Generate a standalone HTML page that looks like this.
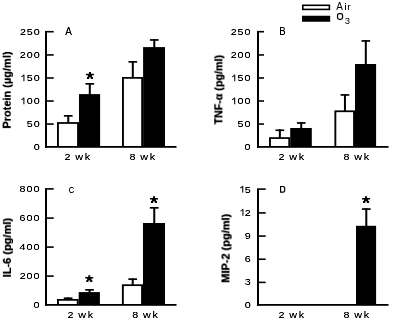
<!DOCTYPE html><html><head><meta charset="utf-8"><style>html,body{margin:0;padding:0;background:#fff;width:400px;height:321px;overflow:hidden}svg{position:absolute;left:0;top:0;will-change:transform;font-family:"Liberation Sans",sans-serif}</style></head><body>
<svg width="400" height="321" viewBox="0 0 400 321">
<defs><filter id="dk" x="-20%" y="-20%" width="140%" height="140%"><feComponentTransfer><feFuncA type="linear" slope="1.25"/></feComponentTransfer></filter><filter id="dk2" x="-30%" y="-30%" width="160%" height="160%"><feComponentTransfer><feFuncA type="linear" slope="1.3"/></feComponentTransfer></filter></defs>
<rect width="400" height="321" fill="#fff"/>
<rect x="45.00" y="30.90" width="2.00" height="116.90" fill="#000"/>
<rect x="45.00" y="146.00" width="131.50" height="1.80" fill="#000"/>
<text transform="translate(33.73,150.35) scale(1.11,1)" font-size="9.7" filter="url(#dk2)">0</text>
<rect x="47.00" y="123.26" width="6.70" height="1.60" fill="#000"/>
<text transform="translate(33.73,127.31) scale(1.11,1)" font-size="9.7" filter="url(#dk2)">0</text>
<text transform="translate(26.77,127.31) scale(1.11,1)" font-size="9.7" filter="url(#dk2)">5</text>
<rect x="47.00" y="100.22" width="6.70" height="1.60" fill="#000"/>
<text transform="translate(33.73,104.27) scale(1.11,1)" font-size="9.7" filter="url(#dk2)">0</text>
<text transform="translate(26.74,104.27) scale(1.11,1)" font-size="9.7" filter="url(#dk2)">0</text>
<rect x="23.36" y="97.67" width="1.05" height="6.60" fill="#000"/>
<path d="M23.81,97.57 L21.11,99.57 L21.61,100.17 L23.91,98.67Z" fill="#000"/>
<rect x="47.00" y="77.18" width="6.70" height="1.60" fill="#000"/>
<text transform="translate(33.73,81.23) scale(1.11,1)" font-size="9.7" filter="url(#dk2)">0</text>
<text transform="translate(26.77,81.23) scale(1.11,1)" font-size="9.7" filter="url(#dk2)">5</text>
<rect x="23.40" y="74.63" width="1.05" height="6.60" fill="#000"/>
<path d="M23.85,74.53 L21.15,76.53 L21.65,77.13 L23.95,75.63Z" fill="#000"/>
<rect x="47.00" y="54.14" width="6.70" height="1.60" fill="#000"/>
<text transform="translate(33.73,58.19) scale(1.11,1)" font-size="9.7" filter="url(#dk2)">0</text>
<text transform="translate(26.74,58.19) scale(1.11,1)" font-size="9.7" filter="url(#dk2)">0</text>
<text transform="translate(19.86,58.19) scale(1.11,1)" font-size="9.7" filter="url(#dk2)">2</text>
<rect x="47.00" y="30.90" width="6.70" height="1.60" fill="#000"/>
<text transform="translate(33.73,35.15) scale(1.11,1)" font-size="9.7" filter="url(#dk2)">0</text>
<text transform="translate(26.77,35.15) scale(1.11,1)" font-size="9.7" filter="url(#dk2)">5</text>
<text transform="translate(19.90,35.15) scale(1.11,1)" font-size="9.7" filter="url(#dk2)">2</text>
<rect x="57.00" y="122.10" width="22.00" height="23.90" fill="#000"/>
<rect x="58.90" y="123.85" width="18.20" height="22.15" fill="#fff"/>
<rect x="67.25" y="115.00" width="2.00" height="8.10" fill="#000"/>
<rect x="63.90" y="115.00" width="8.70" height="1.70" fill="#000"/>
<rect x="79.00" y="94.10" width="21.10" height="51.90" fill="#000"/>
<rect x="88.80" y="83.00" width="2.00" height="12.10" fill="#000"/>
<rect x="85.45" y="83.00" width="8.70" height="1.70" fill="#000"/>
<path d="M88.95,72.10 L90.95,72.10 L90.95,73.85 L93.95,73.85 L93.95,75.35 L92.05,75.35 L92.05,77.00 L92.95,77.00 L92.95,78.90 L90.80,78.90 L90.80,77.40 L89.10,77.40 L89.10,78.90 L86.95,78.90 L86.95,77.00 L87.85,77.00 L87.85,75.35 L85.95,75.35 L85.95,73.85 L88.95,73.85Z" fill="#000"/>
<rect x="122.00" y="77.00" width="21.10" height="69.00" fill="#000"/>
<rect x="123.90" y="78.75" width="17.30" height="67.25" fill="#fff"/>
<rect x="131.80" y="61.00" width="2.00" height="17.00" fill="#000"/>
<rect x="128.45" y="61.00" width="8.70" height="1.70" fill="#000"/>
<rect x="143.10" y="47.10" width="21.90" height="98.90" fill="#000"/>
<rect x="153.30" y="39.10" width="2.00" height="9.00" fill="#000"/>
<rect x="149.95" y="39.10" width="8.70" height="1.70" fill="#000"/>
<text transform="translate(65.18,34.75) scale(0.907,1)" font-size="10.97" filter="url(#dk2)">A</text>
<text transform="translate(64.46,159.80) scale(1.11,1)" font-size="9.7" filter="url(#dk2)">2</text>
<text transform="translate(75.21,159.80) scale(1.11,1)" font-size="9.7" filter="url(#dk2)">w</text>
<text transform="translate(84.68,159.80) scale(1.11,1)" font-size="9.7" filter="url(#dk2)">k</text>
<text transform="translate(129.54,159.80) scale(1.11,1)" font-size="9.7" filter="url(#dk2)">8</text>
<text transform="translate(140.21,159.80) scale(1.11,1)" font-size="9.7" filter="url(#dk2)">w</text>
<text transform="translate(149.68,159.80) scale(1.11,1)" font-size="9.7" filter="url(#dk2)">k</text>
<text transform="translate(10.70,90.10) rotate(-90)" font-size="11" font-weight="bold" text-anchor="middle" filter="url(#dk)">Protein (µg/ml)</text>
<rect x="257.00" y="30.90" width="2.00" height="116.90" fill="#000"/>
<rect x="257.00" y="146.00" width="131.50" height="1.80" fill="#000"/>
<text transform="translate(244.53,150.35) scale(1.11,1)" font-size="9.7" filter="url(#dk2)">0</text>
<rect x="259.00" y="123.26" width="5.00" height="1.60" fill="#000"/>
<text transform="translate(244.53,127.31) scale(1.11,1)" font-size="9.7" filter="url(#dk2)">0</text>
<text transform="translate(237.57,127.31) scale(1.11,1)" font-size="9.7" filter="url(#dk2)">5</text>
<rect x="259.00" y="100.22" width="5.00" height="1.60" fill="#000"/>
<text transform="translate(244.53,104.27) scale(1.11,1)" font-size="9.7" filter="url(#dk2)">0</text>
<text transform="translate(237.54,104.27) scale(1.11,1)" font-size="9.7" filter="url(#dk2)">0</text>
<rect x="234.16" y="97.67" width="1.05" height="6.60" fill="#000"/>
<path d="M234.61,97.57 L231.91,99.57 L232.41,100.17 L234.71,98.67Z" fill="#000"/>
<rect x="259.00" y="77.18" width="5.00" height="1.60" fill="#000"/>
<text transform="translate(244.53,81.23) scale(1.11,1)" font-size="9.7" filter="url(#dk2)">0</text>
<text transform="translate(237.57,81.23) scale(1.11,1)" font-size="9.7" filter="url(#dk2)">5</text>
<rect x="234.20" y="74.63" width="1.05" height="6.60" fill="#000"/>
<path d="M234.65,74.53 L231.95,76.53 L232.45,77.13 L234.75,75.63Z" fill="#000"/>
<rect x="259.00" y="54.14" width="5.00" height="1.60" fill="#000"/>
<text transform="translate(244.53,58.19) scale(1.11,1)" font-size="9.7" filter="url(#dk2)">0</text>
<text transform="translate(237.54,58.19) scale(1.11,1)" font-size="9.7" filter="url(#dk2)">0</text>
<text transform="translate(230.66,58.19) scale(1.11,1)" font-size="9.7" filter="url(#dk2)">2</text>
<rect x="259.00" y="30.90" width="5.00" height="1.60" fill="#000"/>
<text transform="translate(244.53,35.15) scale(1.11,1)" font-size="9.7" filter="url(#dk2)">0</text>
<text transform="translate(237.57,35.15) scale(1.11,1)" font-size="9.7" filter="url(#dk2)">5</text>
<text transform="translate(230.70,35.15) scale(1.11,1)" font-size="9.7" filter="url(#dk2)">2</text>
<rect x="269.00" y="137.20" width="21.20" height="8.80" fill="#000"/>
<rect x="270.90" y="138.95" width="17.40" height="7.05" fill="#fff"/>
<rect x="278.85" y="129.40" width="2.00" height="8.80" fill="#000"/>
<rect x="275.50" y="129.40" width="8.70" height="1.70" fill="#000"/>
<rect x="290.20" y="128.00" width="21.60" height="18.00" fill="#000"/>
<rect x="300.25" y="122.10" width="2.00" height="6.90" fill="#000"/>
<rect x="296.90" y="122.10" width="8.70" height="1.70" fill="#000"/>
<rect x="334.40" y="110.40" width="20.60" height="35.60" fill="#000"/>
<rect x="336.30" y="112.15" width="16.80" height="33.85" fill="#fff"/>
<rect x="343.95" y="94.10" width="2.00" height="17.30" fill="#000"/>
<rect x="340.60" y="94.10" width="8.70" height="1.70" fill="#000"/>
<rect x="355.00" y="64.00" width="21.10" height="82.00" fill="#000"/>
<rect x="364.80" y="40.10" width="2.00" height="24.90" fill="#000"/>
<rect x="361.45" y="40.10" width="8.70" height="1.70" fill="#000"/>
<text transform="translate(279.16,35.10) scale(0.942,1)" font-size="10.17" filter="url(#dk2)">B</text>
<text transform="translate(278.46,159.80) scale(1.11,1)" font-size="9.7" filter="url(#dk2)">2</text>
<text transform="translate(289.21,159.80) scale(1.11,1)" font-size="9.7" filter="url(#dk2)">w</text>
<text transform="translate(298.68,159.80) scale(1.11,1)" font-size="9.7" filter="url(#dk2)">k</text>
<text transform="translate(343.54,159.80) scale(1.11,1)" font-size="9.7" filter="url(#dk2)">8</text>
<text transform="translate(354.21,159.80) scale(1.11,1)" font-size="9.7" filter="url(#dk2)">w</text>
<text transform="translate(363.68,159.80) scale(1.11,1)" font-size="9.7" filter="url(#dk2)">k</text>
<text transform="translate(222.40,89.70) rotate(-90)" font-size="11" font-weight="bold" text-anchor="middle" filter="url(#dk)" textLength="69.5" lengthAdjust="spacingAndGlyphs">TNF-α (pg/ml)</text>
<rect x="45.00" y="188.10" width="2.00" height="117.70" fill="#000"/>
<rect x="45.00" y="304.00" width="131.50" height="1.80" fill="#000"/>
<text transform="translate(33.53,308.35) scale(1.11,1)" font-size="9.7" filter="url(#dk2)">0</text>
<rect x="47.00" y="275.30" width="6.70" height="1.60" fill="#000"/>
<text transform="translate(33.53,279.35) scale(1.11,1)" font-size="9.7" filter="url(#dk2)">0</text>
<text transform="translate(26.54,279.35) scale(1.11,1)" font-size="9.7" filter="url(#dk2)">0</text>
<text transform="translate(19.66,279.35) scale(1.11,1)" font-size="9.7" filter="url(#dk2)">2</text>
<rect x="47.00" y="246.30" width="6.70" height="1.60" fill="#000"/>
<text transform="translate(33.53,250.35) scale(1.11,1)" font-size="9.7" filter="url(#dk2)">0</text>
<text transform="translate(26.54,250.35) scale(1.11,1)" font-size="9.7" filter="url(#dk2)">0</text>
<text transform="translate(19.43,250.35) scale(1.11,1)" font-size="9.7" filter="url(#dk2)">4</text>
<rect x="47.00" y="217.30" width="6.70" height="1.60" fill="#000"/>
<text transform="translate(33.53,221.35) scale(1.11,1)" font-size="9.7" filter="url(#dk2)">0</text>
<text transform="translate(26.54,221.35) scale(1.11,1)" font-size="9.7" filter="url(#dk2)">0</text>
<text transform="translate(19.59,221.35) scale(1.11,1)" font-size="9.7" filter="url(#dk2)">6</text>
<rect x="47.00" y="188.10" width="6.70" height="1.60" fill="#000"/>
<text transform="translate(33.53,192.35) scale(1.11,1)" font-size="9.7" filter="url(#dk2)">0</text>
<text transform="translate(26.54,192.35) scale(1.11,1)" font-size="9.7" filter="url(#dk2)">0</text>
<text transform="translate(19.58,192.35) scale(1.11,1)" font-size="9.7" filter="url(#dk2)">8</text>
<rect x="57.00" y="299.00" width="21.70" height="5.00" fill="#000"/>
<rect x="58.90" y="300.75" width="17.90" height="3.25" fill="#fff"/>
<rect x="67.10" y="297.40" width="2.00" height="2.60" fill="#000"/>
<rect x="63.75" y="297.40" width="8.70" height="1.70" fill="#000"/>
<rect x="78.70" y="292.10" width="21.20" height="11.90" fill="#000"/>
<rect x="88.55" y="289.00" width="2.00" height="4.10" fill="#000"/>
<rect x="85.20" y="289.00" width="8.70" height="1.70" fill="#000"/>
<path d="M88.30,275.20 L90.30,275.20 L90.30,276.95 L93.30,276.95 L93.30,278.45 L91.40,278.45 L91.40,280.10 L92.30,280.10 L92.30,282.00 L90.15,282.00 L90.15,280.50 L88.45,280.50 L88.45,282.00 L86.30,282.00 L86.30,280.10 L87.20,280.10 L87.20,278.45 L85.30,278.45 L85.30,276.95 L88.30,276.95Z" fill="#000"/>
<rect x="121.90" y="284.30" width="21.10" height="19.70" fill="#000"/>
<rect x="123.80" y="286.05" width="17.30" height="17.95" fill="#fff"/>
<rect x="131.70" y="278.30" width="2.00" height="7.00" fill="#000"/>
<rect x="128.35" y="278.30" width="8.70" height="1.70" fill="#000"/>
<rect x="143.00" y="223.00" width="22.00" height="81.00" fill="#000"/>
<rect x="153.25" y="207.00" width="2.00" height="17.00" fill="#000"/>
<rect x="149.90" y="207.00" width="8.70" height="1.70" fill="#000"/>
<path d="M153.00,196.20 L155.00,196.20 L155.00,197.95 L158.00,197.95 L158.00,199.45 L156.10,199.45 L156.10,201.10 L157.00,201.10 L157.00,203.00 L154.85,203.00 L154.85,201.50 L153.15,201.50 L153.15,203.00 L151.00,203.00 L151.00,201.10 L151.90,201.10 L151.90,199.45 L150.00,199.45 L150.00,197.95 L153.00,197.95Z" fill="#000"/>
<text transform="translate(68.71,192.80) scale(0.778,1)" font-size="9.75" filter="url(#dk2)">C</text>
<text transform="translate(67.46,317.80) scale(1.11,1)" font-size="9.7" filter="url(#dk2)">2</text>
<text transform="translate(78.21,317.80) scale(1.11,1)" font-size="9.7" filter="url(#dk2)">w</text>
<text transform="translate(87.68,317.80) scale(1.11,1)" font-size="9.7" filter="url(#dk2)">k</text>
<text transform="translate(132.34,317.80) scale(1.11,1)" font-size="9.7" filter="url(#dk2)">8</text>
<text transform="translate(143.01,317.80) scale(1.11,1)" font-size="9.7" filter="url(#dk2)">w</text>
<text transform="translate(152.48,317.80) scale(1.11,1)" font-size="9.7" filter="url(#dk2)">k</text>
<text transform="translate(10.90,247.60) rotate(-90)" font-size="11" font-weight="bold" text-anchor="middle" filter="url(#dk)">IL-6 (pg/ml)</text>
<rect x="257.00" y="188.30" width="2.00" height="117.50" fill="#000"/>
<rect x="257.00" y="304.00" width="131.50" height="1.80" fill="#000"/>
<text transform="translate(244.63,308.35) scale(1.11,1)" font-size="9.7" filter="url(#dk2)">0</text>
<rect x="259.00" y="281.59" width="6.70" height="1.60" fill="#000"/>
<text transform="translate(244.69,285.19) scale(1.11,1)" font-size="9.7" filter="url(#dk2)">3</text>
<rect x="259.00" y="258.43" width="6.70" height="1.60" fill="#000"/>
<text transform="translate(244.69,262.03) scale(1.11,1)" font-size="9.7" filter="url(#dk2)">6</text>
<rect x="259.00" y="235.27" width="6.70" height="1.60" fill="#000"/>
<text transform="translate(244.72,238.87) scale(1.11,1)" font-size="9.7" filter="url(#dk2)">9</text>
<rect x="259.00" y="212.11" width="6.70" height="1.60" fill="#000"/>
<text transform="translate(244.75,215.71) scale(1.11,1)" font-size="9.7" filter="url(#dk2)">2</text>
<rect x="242.39" y="209.11" width="1.05" height="6.60" fill="#000"/>
<path d="M242.84,209.01 L240.14,211.01 L240.64,211.61 L242.94,210.11Z" fill="#000"/>
<rect x="259.00" y="188.30" width="6.70" height="1.60" fill="#000"/>
<text transform="translate(244.67,192.55) scale(1.11,1)" font-size="9.7" filter="url(#dk2)">5</text>
<rect x="242.20" y="185.95" width="1.05" height="6.60" fill="#000"/>
<path d="M242.65,185.85 L239.95,187.85 L240.45,188.45 L242.75,186.95Z" fill="#000"/>
<rect x="356.00" y="225.80" width="20.10" height="78.20" fill="#000"/>
<rect x="365.30" y="208.20" width="2.00" height="18.60" fill="#000"/>
<rect x="361.95" y="208.20" width="8.70" height="1.70" fill="#000"/>
<path d="M365.05,196.20 L367.05,196.20 L367.05,197.95 L370.05,197.95 L370.05,199.45 L368.15,199.45 L368.15,201.10 L369.05,201.10 L369.05,203.00 L366.90,203.00 L366.90,201.50 L365.20,201.50 L365.20,203.00 L363.05,203.00 L363.05,201.10 L363.95,201.10 L363.95,199.45 L362.05,199.45 L362.05,197.95 L365.05,197.95Z" fill="#000"/>
<path d="M280.57,186.47 L283.57,186.47 L284.68,187.57 L284.68,191.08 L283.57,192.18 L280.57,192.18Z" fill="none" stroke="#000" stroke-width="1.15"/>
<text transform="translate(278.46,317.80) scale(1.11,1)" font-size="9.7" filter="url(#dk2)">2</text>
<text transform="translate(289.21,317.80) scale(1.11,1)" font-size="9.7" filter="url(#dk2)">w</text>
<text transform="translate(298.68,317.80) scale(1.11,1)" font-size="9.7" filter="url(#dk2)">k</text>
<text transform="translate(343.49,317.80) scale(1.11,1)" font-size="9.7" filter="url(#dk2)">8</text>
<text transform="translate(354.16,317.80) scale(1.11,1)" font-size="9.7" filter="url(#dk2)">w</text>
<text transform="translate(363.63,317.80) scale(1.11,1)" font-size="9.7" filter="url(#dk2)">k</text>
<text transform="translate(229.50,248.30) rotate(-90)" font-size="11" font-weight="bold" text-anchor="middle" filter="url(#dk)">MIP-2 (pg/ml)</text>
<rect x="302.00" y="4.50" width="28.20" height="5.70" fill="#000"/>
<rect x="303.60" y="6.10" width="25.00" height="2.50" fill="#fff"/>
<rect x="302.00" y="15.75" width="28.20" height="6.00" fill="#000"/>
<text transform="translate(336.18,10.00) scale(0.901,1)" font-size="11.05">A</text>
<rect x="345.00" y="4.90" width="1.00" height="5.10" fill="#000"/>
<rect x="345.00" y="3.00" width="1.00" height="1.00" fill="#000"/>
<text transform="translate(347.26,10.00) scale(1.108,1)" font-size="9.39">r</text>
<rect x="337.55" y="13.55" width="5.0" height="5.7" rx="1.8" ry="1.8" fill="none" stroke="#000" stroke-width="1.25"/>
<text x="344.80" y="23.70" font-size="9.5" text-anchor="start" letter-spacing="0" font-weight="normal" >3</text>
</svg></body></html>
